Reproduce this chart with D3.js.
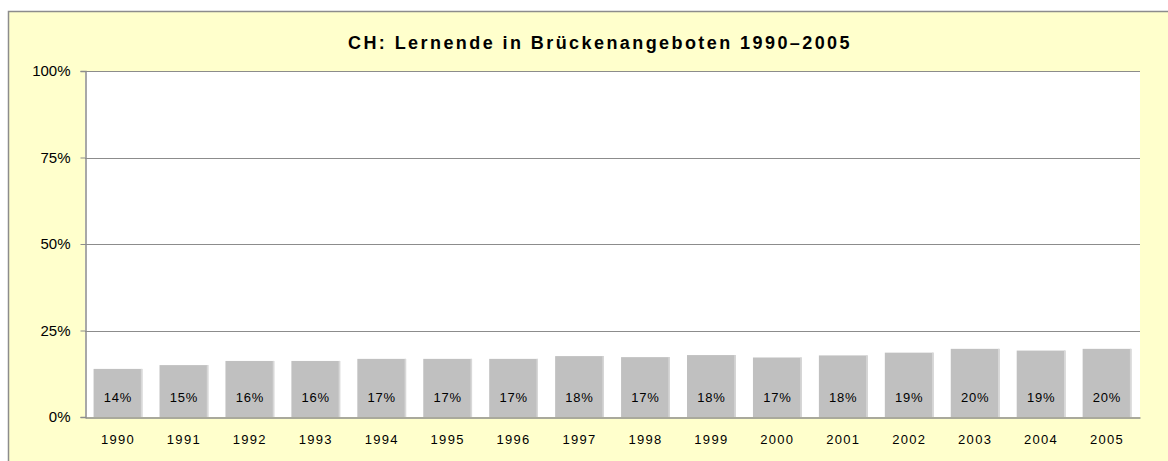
<!DOCTYPE html>
<html>
<head>
<meta charset="utf-8">
<script src="https://cdn.jsdelivr.net/npm/d3@7"></script>
<style>
  html, body { margin: 0; background: #fff; overflow: hidden; }
  svg { display: block; }
  svg text { font-family: "Liberation Sans", Arial, sans-serif; fill: #000; }
</style>
</head>
<body>
<div id="chart"></div>
<script>
// data
var years = ["1990", "1991", "1992", "1993", "1994", "1995", "1996", "1997",
             "1998", "1999", "2000", "2001", "2002", "2003", "2004", "2005"];
var shares = [0.139, 0.150, 0.162, 0.162, 0.168, 0.168, 0.168, 0.176,
              0.173, 0.179, 0.172, 0.178, 0.186, 0.197, 0.192, 0.197];
var yTicks = [0, 0.25, 0.5, 0.75, 1];
var title = "CH: Lernende in Brückenangeboten 1990–2005";

var width = 1168, height = 461;
var margin = { top: 71, right: 28, bottom: 44, left: 85 };

var svg = d3.select("#chart").append("svg")
    .attr("width", width)
    .attr("height", height);

// chart area background, frame only shows top and left
svg.append("rect")
    .attr("x", 8.5).attr("y", 11.5)
    .attr("width", width).attr("height", height)
    .attr("fill", "#ffffcc");
svg.append("path")
    .attr("d", "M8.5," + height + "V11.5H" + width)
    .attr("fill", "none")
    .attr("stroke", "#8c8c8c")
    .attr("stroke-width", 1.5);

var titleText = svg.append("text")
    .attr("x", 600).attr("y", 49)
    .attr("text-anchor", "middle")
    .style("font-size", "18px")
    .style("font-weight", "bold")
    .text(title);
// spread the title to the width it has in the picture
var tw = titleText.node().getComputedTextLength();
titleText.style("letter-spacing", ((504 - tw) / title.length) + "px");

var x = d3.scaleBand()
    .domain(years)
    .range([margin.left, width - margin.right])
    .paddingInner(0.26)
    .paddingOuter(0.13);

var y = d3.scaleLinear()
    .domain([0, 1])
    .range([height - margin.bottom, margin.top]);

// plot area
svg.append("rect")
    .attr("x", margin.left).attr("y", margin.top)
    .attr("width", width - margin.right - margin.left)
    .attr("height", y(0) - margin.top)
    .attr("fill", "#fff");

// gridlines
svg.append("g")
    .selectAll("line")
    .data(yTicks.filter(d => d > 0))
    .enter().append("line")
    .attr("x1", margin.left).attr("x2", width - margin.right)
    .attr("y1", d => Math.round(y(d)) + 0.5)
    .attr("y2", d => Math.round(y(d)) + 0.5)
    .attr("stroke", "#8c8c8c");

// bars
var bar = svg.append("g")
    .selectAll("g")
    .data(years)
    .enter().append("g");

bar.append("rect")
    .attr("x", d => x(d))
    .attr("y", (d, i) => y(shares[i]))
    .attr("width", x.bandwidth())
    .attr("height", (d, i) => y(0) - y(shares[i]))
    .attr("fill", "#c0c0c0");

bar.append("rect")
    .attr("x", d => x(d) + x.bandwidth() - 1.5)
    .attr("y", (d, i) => y(shares[i]))
    .attr("width", 1.5)
    .attr("height", (d, i) => y(0) - y(shares[i]))
    .attr("fill", "#d8d8d8");

bar.append("text")
    .attr("x", d => x(d) + x.bandwidth() / 2)
    .attr("y", y(0) - 15)
    .attr("text-anchor", "middle")
    .style("font-size", "13px")
    .style("letter-spacing", "0.8px")
    .text((d, i) => Math.round(shares[i] * 100) + "%");

// y axis
var yAxis = svg.append("g")
    .attr("transform", "translate(" + (margin.left + 0.5) + ",0)")
    .call(d3.axisLeft(y).tickValues(yTicks).tickFormat(d3.format(".0%")).tickSize(5).tickPadding(10));
yAxis.select(".domain").attr("stroke", "#8c8c8c").attr("stroke-width", 1.5);
yAxis.selectAll(".tick line").attr("stroke", "#8c8c8c");
yAxis.selectAll(".tick text")
    .style("font-size", "15px")
    .attr("fill", "#000");

// x axis
var xAxis = svg.append("g")
    .attr("transform", "translate(0," + (Math.round(y(0)) + 0.5) + ")")
    .call(d3.axisBottom(x).tickSize(0).tickPadding(17));
xAxis.select(".domain").attr("stroke", "#8c8c8c").attr("stroke-width", 1.5);
xAxis.selectAll(".tick text")
    .style("font-size", "13px")
    .style("letter-spacing", "1.3px")
    .attr("fill", "#000");
</script>
</body>
</html>
